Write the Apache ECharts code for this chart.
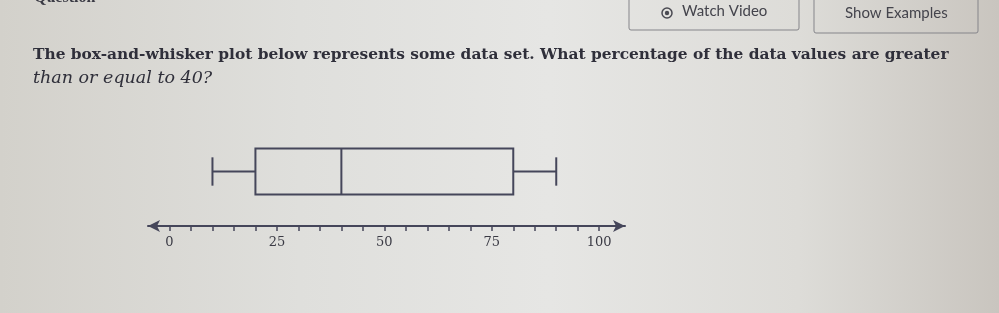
<!DOCTYPE html>
<html>
<head>
<meta charset="utf-8">
<style>
html, body { margin: 0; padding: 0; }
#chart { width: 999px; height: 313px; }
</style>
</head>
<body>
<div id="chart"></div>
<script src="https://cdn.jsdelivr.net/npm/echarts@6/dist/echarts.min.js"></script>
<script>
// five number summary: min, Q1, median, Q3, max
var boxNames = ['data set'];
var boxStats = [[10, 20, 40, 80, 90]];
var tickValues = [0, 5, 10, 15, 20, 25, 30, 35, 40, 45, 50, 55, 60, 65, 70, 75, 80, 85, 90, 95, 100];
var labelValues = [0, 25, 50, 75, 100];

var questionText = 'The box-and-whisker plot below represents some data set. What percentage of the data values are greater';
var questionText2 = 'than or equal to 40?';

var lineColor = '#45465a';
var textColor = '#2f2f3a';

var myChart = echarts.init(document.getElementById('chart'));

function renderBox(params, api) {
    var v = [api.value(0), api.value(1), api.value(2), api.value(3), api.value(4)];
    var pts = v.map(function(val) { return api.coord([val, api.value(5)]); });
    var band = api.size([0, 1])[1];
    var cy = pts[0][1];
    var h = band * 0.21;   // half box height
    var c = band * 0.13;   // half whisker cap
    var st = { stroke: lineColor, lineWidth: 2, fill: null };
    return {
        type: 'group',
        children: [
            { type: 'line', shape: { x1: pts[0][0], y1: cy - c, x2: pts[0][0], y2: cy + c }, style: st },
            { type: 'line', shape: { x1: pts[0][0], y1: cy, x2: pts[1][0], y2: cy }, style: st },
            { type: 'rect', shape: { x: pts[1][0], y: cy - h, width: pts[3][0] - pts[1][0], height: h * 2 }, style: st },
            { type: 'line', shape: { x1: pts[2][0], y1: cy - h, x2: pts[2][0], y2: cy + h }, style: st },
            { type: 'line', shape: { x1: pts[3][0], y1: cy, x2: pts[4][0], y2: cy }, style: st },
            { type: 'line', shape: { x1: pts[4][0], y1: cy - c, x2: pts[4][0], y2: cy + c }, style: st }
        ]
    };
}

var seriesData = boxStats.map(function(s, i) { return s.concat([i]); });

var option = {
    animation: false,
    graphic: [
        {
            type: 'rect', z: -10, silent: true,
            shape: { x: 0, y: 0, width: 999, height: 313 },
            style: {
                fill: new echarts.graphic.LinearGradient(0, 0, 1, 0, [
                    { offset: 0, color: '#d3d1cb' },
                    { offset: 0.3, color: '#dfdfdc' },
                    { offset: 0.55, color: '#e6e6e4' },
                    { offset: 0.8, color: '#dddcd8' },
                    { offset: 1, color: '#c9c5bf' }
                ])
            }
        },
        {
            type: 'text', left: 34, top: -10,
            style: { text: 'Question', font: 'bold 16px "Liberation Serif"', fill: '#3a3a44' }
        },
        {
            type: 'rect', z: 1,
            shape: { x: 629, y: -4, width: 170, height: 34, r: 2 },
            style: { fill: 'rgba(0,0,0,0)', stroke: '#85858a', lineWidth: 1 }
        },
        {
            type: 'circle', shape: { cx: 667, cy: 13, r: 5 },
            style: { fill: 'none', stroke: '#4a4a52', lineWidth: 1.5 }
        },
        {
            type: 'circle', shape: { cx: 667, cy: 13, r: 2.2 },
            style: { fill: '#4a4a52' }
        },
        {
            type: 'text', left: 682, top: 4,
            style: { text: 'Watch Video', font: '15px Lato', fill: '#44444c' }
        },
        {
            type: 'rect', z: 1,
            shape: { x: 814, y: -4, width: 164, height: 37, r: 2 },
            style: { fill: 'rgba(0,0,0,0)', stroke: '#85858a', lineWidth: 1 }
        },
        {
            type: 'text', left: 845, top: 6,
            style: { text: 'Show Examples', font: '15px Lato', fill: '#44444c' }
        },
        {
            type: 'text', left: 33, top: 47,
            style: { text: questionText, font: 'bold 15.4px "DejaVu Serif"', fill: textColor }
        },
        {
            type: 'text', left: 33, top: 69,
            style: { text: questionText2, font: 'italic 17.5px "DejaVu Serif"', fill: textColor }
        }
    ],
    grid: { left: 148, right: 374, top: 117, bottom: 87 },
    xAxis: {
        type: 'value',
        min: -5,
        max: 106,
        splitLine: { show: false },
        axisLine: {
            show: true,
            symbol: ['arrow', 'arrow'],
            symbolSize: [9, 12],
            lineStyle: { color: lineColor, width: 2 }
        },
        axisTick: {
            show: true,
            customValues: tickValues,
            length: 5,
            lineStyle: { color: lineColor, width: 1.5 }
        },
        axisLabel: {
            customValues: labelValues,
            margin: 10,
            color: '#3a3a44',
            fontFamily: '"DejaVu Serif"',
            fontSize: 13
        }
    },
    yAxis: {
        type: 'category',
        data: boxNames,
        show: false
    },
    series: [{
        type: 'custom',
        renderItem: renderBox,
        encode: { x: [0, 1, 2, 3, 4], y: 5 },
        data: seriesData
    }]
};

myChart.setOption(option);
</script>
</body>
</html>
